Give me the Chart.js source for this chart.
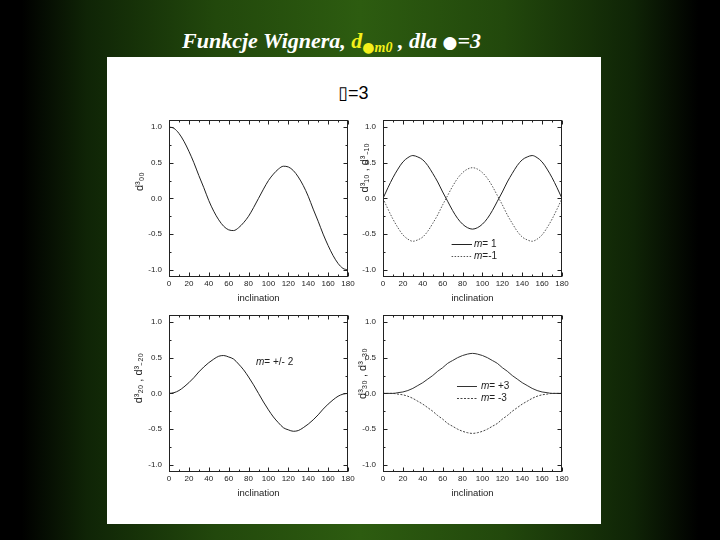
<!DOCTYPE html>
<html><head><meta charset="utf-8">
<script src="https://cdn.jsdelivr.net/npm/chart.js@4.4.1/dist/chart.umd.min.js"></script>
<style>
html,body{margin:0;padding:0;}
body{width:720px;height:540px;overflow:hidden;position:relative;
background:linear-gradient(to right,#000 0%,#000 3%,#0f2406 12%,#22480c 30%,#2d5c10 50%,#22480c 70%,#0f2406 88%,#000 97%,#000 100%);}
#title{position:absolute;left:182px;top:30px;font:italic bold 22px "Liberation Serif","Times New Roman",serif;color:#fff;white-space:nowrap;line-height:22px;}
#title .y{color:#f4f01a;}
#title .sub{font-size:14px;position:relative;top:4px;}
#title .sdot{font-family:"DejaVu Sans";font-style:normal;font-size:14px;}
#title .dot{font-family:"DejaVu Sans";font-style:normal;font-size:17px;}
#panel{position:absolute;left:107px;top:57px;width:494px;height:467px;background:#fff;}
#lbl{position:absolute;left:338px;top:84px;font:18px "Liberation Sans",Arial,sans-serif;line-height:18px;color:#000;white-space:nowrap;}
#lbl .box{font-family:"DejaVu Sans";color:#000;}
canvas{position:absolute;}
</style></head>
<body>
<div id="panel"></div>
<div id="title">Funkcje Wignera, <span class="y">d<span class="sub"><span class="sdot">●</span>m0</span></span> , dla <span class="dot">●</span>=3</div>
<div id="lbl"><span class="box">▯</span>=3</div>
<canvas id="c1" width="250" height="200" style="left:114px;top:108px"></canvas>
<canvas id="c2" width="250" height="200" style="left:328px;top:108px"></canvas>
<canvas id="c3" width="250" height="200" style="left:114px;top:303px"></canvas>
<canvas id="c4" width="250" height="200" style="left:328px;top:303px"></canvas>
<script>
// ---- data ----
const inclination = [0,5,10,15,20,25,30,35,40,45,50,55,60,65,70,75,80,85,90,95,100,105,110,115,120,125,130,135,140,145,150,155,160,165,170,175,180];
const d30_00 = [1.00,0.98,0.91,0.80,0.66,0.50,0.32,0.15,-0.03,-0.18,-0.30,-0.39,-0.44,-0.45,-0.41,-0.34,-0.25,-0.13,0.00,0.13,0.25,0.34,0.41,0.45,0.44,0.39,0.30,0.18,0.03,-0.15,-0.32,-0.50,-0.66,-0.80,-0.91,-0.98,-1.00];
const d3_m1 = [0.00,0.15,0.29,0.41,0.51,0.57,0.60,0.58,0.54,0.46,0.35,0.23,0.09,-0.04,-0.17,-0.28,-0.36,-0.41,-0.43,-0.41,-0.36,-0.28,-0.17,-0.04,0.09,0.23,0.35,0.46,0.54,0.58,0.60,0.57,0.51,0.41,0.29,0.15,0.00];
const d3_mMinus1 = [0.00,-0.15,-0.29,-0.41,-0.51,-0.57,-0.60,-0.58,-0.54,-0.46,-0.35,-0.23,-0.09,0.04,0.17,0.28,0.36,0.41,0.43,0.41,0.36,0.28,0.17,0.04,-0.09,-0.23,-0.35,-0.46,-0.54,-0.58,-0.60,-0.57,-0.51,-0.41,-0.29,-0.15,0.00];
const d3_m2 = [0.00,0.01,0.04,0.09,0.15,0.22,0.30,0.37,0.43,0.48,0.52,0.53,0.51,0.48,0.41,0.33,0.23,0.12,0.00,-0.12,-0.23,-0.33,-0.41,-0.48,-0.51,-0.53,-0.52,-0.48,-0.43,-0.37,-0.30,-0.22,-0.15,-0.09,-0.04,-0.01,0.00];
const d3_m3 = [0.00,0.00,0.00,0.01,0.02,0.04,0.07,0.11,0.15,0.20,0.25,0.31,0.36,0.42,0.46,0.50,0.53,0.55,0.56,0.55,0.53,0.50,0.46,0.42,0.36,0.31,0.25,0.20,0.15,0.11,0.07,0.04,0.02,0.01,0.00,0.00,0.00];
const d3_mMinus3 = [0.00,0.00,0.00,-0.01,-0.02,-0.04,-0.07,-0.11,-0.15,-0.20,-0.25,-0.31,-0.36,-0.42,-0.46,-0.50,-0.53,-0.55,-0.56,-0.55,-0.53,-0.50,-0.46,-0.42,-0.36,-0.31,-0.25,-0.20,-0.15,-0.11,-0.07,-0.04,-0.02,-0.01,0.00,0.00,0.00];
const xTicks = [0,20,40,60,80,100,120,140,160,180];
const xMinorTicks = [10,30,50,70,90,110,130,150,170];
const yTicks = [-1.0,-0.5,0.0,0.5,1.0];
const yMinorTicks = [-0.75,-0.25,0.25,0.75];
const xTitle = 'inclination';
const yTitles = ['d³₀₀', 'd³₁₀ , d³₋₁₀', 'd³₂₀ , d³₋₂₀', 'd³₃₀ , d³₋₃₀'];
const legendLabels = ['m= 1','m=-1','m= +/- 2','m= +3','m= -3'];

const FONT = '"Liberation Sans", Arial, sans-serif';
const INK = '#222';

const framePlugin = {
  id:'frame',
  afterDatasetsDraw(chart){
    const {ctx, chartArea:a, scales:{x,y}} = chart;
    const L=Math.round(a.left)+0.5, R=Math.round(a.right)-0.5, T=Math.round(a.top)+0.5, B=Math.round(a.bottom)-0.5;
    ctx.save(); ctx.strokeStyle=INK; ctx.lineWidth=1; ctx.setLineDash([]);
    ctx.strokeRect(L,T,R-L,B-T);
    ctx.beginPath();
    const xt=(vals,len)=>vals.forEach(v=>{const p=Math.round(x.getPixelForValue(v))+0.5; ctx.moveTo(p,B); ctx.lineTo(p,B-len); ctx.moveTo(p,T); ctx.lineTo(p,T+len);});
    const yt=(vals,len)=>vals.forEach(v=>{const p=Math.round(y.getPixelForValue(v))+0.5; ctx.moveTo(L,p); ctx.lineTo(L+len,p); ctx.moveTo(R,p); ctx.lineTo(R-len,p);});
    xt(xTicks,4); xt(xMinorTicks,2); yt(yTicks,4); yt(yMinorTicks,2);
    ctx.stroke(); ctx.restore();
  }
};
const legendPlugin = {
  id:'inlegend',
  afterDatasetsDraw(chart, args, opts){
    if(!opts.items) return;
    const {ctx, scales:{x,y}} = chart;
    ctx.save();
    opts.items.forEach(it=>{
      const py = Math.round(y.getPixelForValue(it.y))+0.5;
      if (it.ds !== undefined){
        const ds = chart.data.datasets[it.ds];
        ctx.strokeStyle = ds.borderColor; ctx.lineWidth = ds.borderWidth; ctx.setLineDash(ds.borderDash||[]);
        ctx.beginPath(); ctx.moveTo(x.getPixelForValue(it.x0), py); ctx.lineTo(x.getPixelForValue(it.x1), py); ctx.stroke();
        ctx.setLineDash([]);
      }
      const label = it.text;
      let tx = x.getPixelForValue(it.tx);
      ctx.fillStyle=INK; ctx.textBaseline='middle'; ctx.textAlign='left';
      ctx.font = 'italic 10px ' + FONT;
      ctx.fillText(label[0], tx, py);
      tx += ctx.measureText(label[0]).width;
      ctx.font = '10px ' + FONT;
      ctx.fillText(label.slice(1), tx, py);
    });
    ctx.restore();
  }
};

function series(label, values, color, dash){
  return {label, data: inclination.map((v,i)=>({x:v, y:values[i]})), borderColor:color, borderWidth:1,
    borderDash:dash||[], pointRadius:0, fill:false, cubicInterpolationMode:'monotone'};
}

function makeChart(id, datasets, yTitle, titlePad, legendItems){
  return new Chart(document.getElementById(id), {
    type:'line',
    data:{datasets},
    plugins:[framePlugin, legendPlugin],
    options:{
      responsive:false, animation:false,
      layout:{padding:{top:10,right:16,left:0,bottom:0}},
      plugins:{legend:{display:false}, tooltip:{enabled:false}, inlegend:{items:legendItems}},
      scales:{
        x:{type:'linear', min:0, max:180,
          afterBuildTicks:s=>{s.ticks = xTicks.map(v=>({value:v}));},
          afterFit:s=>{s.height=31;},
          grid:{display:false, drawTicks:false}, border:{display:false},
          ticks:{padding:2, maxRotation:0, autoSkip:false, color:INK, font:{family:FONT, size:8}},
          title:{display:true, text:xTitle, color:INK, font:{family:FONT, size:9.5}, padding:{top:0,bottom:4}}
        },
        y:{type:'linear', min:-1.1, max:1.1,
          afterBuildTicks:s=>{s.ticks = yTicks.map(v=>({value:v}));},
          afterFit:s=>{s.width=55;},
          grid:{display:false, drawTicks:false}, border:{display:false},
          ticks:{padding:7, color:INK, font:{family:FONT, size:8}, callback:v=>Number(v).toFixed(1)},
          title:{display:true, text:yTitle, color:INK, font:{family:FONT, size:11}, padding:{top:titlePad,bottom:0}}
        }
      }
    }
  });
}

makeChart('c1', [series('m=0', d30_00, '#222')], '           ' + yTitles[0], 19, []);
makeChart('c2', [series(legendLabels[0], d3_m1, '#222'), series(legendLabels[1], d3_mMinus1, '#555', [1.5,1.5])],
  '                    ' + yTitles[1], 30, [
    {ds:0, x0:69, x1:89.5, tx:91.5, y:-0.64, text:legendLabels[0]},
    {ds:1, x0:69, x1:89.5, tx:91.5, y:-0.81, text:legendLabels[1]}
  ]);
makeChart('c3', [series(legendLabels[2], d3_m2, '#222')], '          ' + yTitles[2], 18, [
    {tx:87.5, y:0.44, text:legendLabels[2]}
  ]);
makeChart('c4', [series(legendLabels[3], d3_m3, '#333'), series(legendLabels[4], d3_mMinus3, '#444', [2,1.5])],
  '             ' + yTitles[3], 28, [
    {ds:0, x0:74.4, x1:94.5, tx:98.5, y:0.10, text:legendLabels[3]},
    {ds:1, x0:74.4, x1:94.5, tx:98.5, y:-0.06, text:legendLabels[4]}
  ]);
</script>
</body></html>
